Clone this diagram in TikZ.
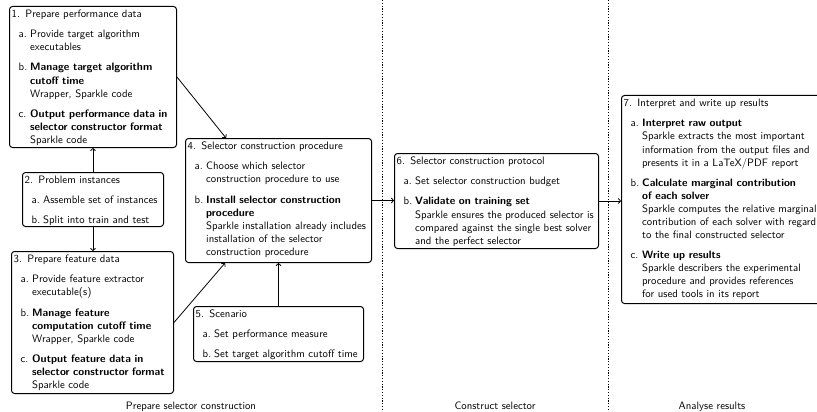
\documentclass[tikz,border=0pt]{standalone}
\usetikzlibrary{calc,arrows.meta}
\newcommand{\bxtitle}[1]{\noindent\rule{0pt}{8pt}#1\par}
\newcommand{\bxitem}[2]{\par\vspace{7pt}\hangindent=18.5pt\hangafter=1\noindent\hspace*{7pt}\makebox[11.5pt][l]{#1}#2\par}
\tikzset{
  bx/.style={draw, line width=1pt, rounded corners=3pt, anchor=north west, inner sep=0pt},
  tx/.style={anchor=north west, inner sep=0pt, font=\sffamily\fontsize{10.75}{13.1}\selectfont},
  conn/.style={line width=0.8pt, -{To[length=3pt,width=5.5pt]}},
  sepline/.style={line width=0.8pt, dash pattern=on 1.2pt off 1.6pt},
  collabel/.style={font=\sffamily\fontsize{10.75}{12}\selectfont, anchor=base}
}
\begin{document}
\begin{tikzpicture}[x=1pt,y=-1pt]
\useasboundingbox (0,0) rectangle (817,412);
\clip (0,0) rectangle (817,412);

% column separators
\draw[sepline] (382,0) -- (382,412);
\draw[sepline] (608,0) -- (608,412);

% boxes
\node[bx, minimum width=167pt, minimum height=141pt] (b1) at (9,6) {};
\node[tx, text width=163pt] (t1) at ($(b1.north west)+(2.5,3.5)$) {\bxtitle{1. Prepare performance data}
\bxitem{a.}{Provide target algorithm\newline executables}
\bxitem{b.}{\textbf{Manage target algorithm}\newline\textbf{cutoff time}\newline Wrapper, Sparkle code}
\bxitem{c.}{\textbf{Output performance data in}\newline\textbf{selector constructor format}\newline Sparkle code}};

\node[bx, minimum width=141pt, minimum height=54pt] (b2) at (22,172) {};
\node[tx, text width=137pt] (t2) at ($(b2.north west)+(2.5,3.5)$) {\bxtitle{2. Problem instances}
\bxitem{a.}{Assemble set of instances}
\bxitem{b.}{Split into train and test}};

\node[bx, minimum width=162pt, minimum height=142pt] (b3) at (11,251) {};
\node[tx, text width=158pt] (t3) at ($(b3.north west)+(2.5,3.5)$) {\bxtitle{3. Prepare feature data}
\bxitem{a.}{Provide feature extractor\newline executable(s)}
\bxitem{b.}{\textbf{Manage feature}\newline\textbf{computation cutoff time}\newline Wrapper, Sparkle code}
\bxitem{c.}{\textbf{Output feature data in}\newline\textbf{selector constructor format}\newline Sparkle code}};

\node[bx, minimum width=186pt, minimum height=124pt] (b4) at (185,138) {};
\node[tx, text width=182pt] (t4) at ($(b4.north west)+(2.5,3.5)$) {\bxtitle{4. Selector construction procedure}
\bxitem{a.}{Choose which selector\newline construction procedure to use}
\bxitem{b.}{\textbf{Install selector construction}\newline\textbf{procedure}\newline Sparkle installation already includes\newline installation of the selector\newline construction procedure}};

\node[bx, minimum width=170pt, minimum height=55pt] (b5) at (193,306) {};
\node[tx, text width=166pt] (t5) at ($(b5.north west)+(2.5,3.5)$) {\bxtitle{5. Scenario}
\bxitem{a.}{Set performance measure}
\bxitem{b.}{Set target algorithm cutoff time}};

\node[bx, minimum width=204pt, minimum height=95pt] (b6) at (394,153) {};
\node[tx, text width=200pt] (t6) at ($(b6.north west)+(2.5,3.5)$) {\bxtitle{6. Selector construction protocol}
\bxitem{a.}{Set selector construction budget}
\bxitem{b.}{\textbf{Validate on training set}\newline Sparkle ensures the produced selector is\newline compared against the single best solver\newline and the perfect selector}};

\node[bx, minimum width=200pt, minimum height=208pt] (b7) at (621,95) {};
\node[tx, text width=196pt] (t7) at ($(b7.north west)+(2.5,3.5)$) {\bxtitle{7. Interpret and write up results}
\bxitem{a.}{\textbf{Interpret raw output}\newline Sparkle extracts the most important\newline information from the output files and\newline presents it in a LaTeX/PDF report}
\bxitem{b.}{\textbf{Calculate marginal contribution}\newline\textbf{of each solver}\newline Sparkle computes the relative marginal\newline contribution of each solver with regard\newline to the final constructed selector}
\bxitem{c.}{\textbf{Write up results}\newline Sparkle describers the experimental\newline procedure and provides references\newline for used tools in its report}};

% connectors
\coordinate (b4n) at ($(b4.north west)+(41,0)$);
\coordinate (b4s) at ($(b4.south west)+(40,0)$);
\draw[conn] (b2.north) -- (b2.north |- b1.south);
\draw[conn] (b2.south) -- (b2.south |- b3.north);
\draw[conn] (b1.east) -- (b4n);
\draw[conn] (b3.east) -- (b4s);
\draw[conn] (b5.north) -- (b5.north |- b4.south);
\draw[conn] (b4.east) -- (b4.east -| b6.west);
\draw[conn] (b6.east) -- (b6.east -| b7.west);

% column labels
\node[collabel] (l1) at (191,409) {Prepare selector construction};
\node[collabel] (l2) at (495,409) {Construct selector};
\node[collabel] (l3) at (712,409) {Analyse results};
\end{tikzpicture}
\end{document}
